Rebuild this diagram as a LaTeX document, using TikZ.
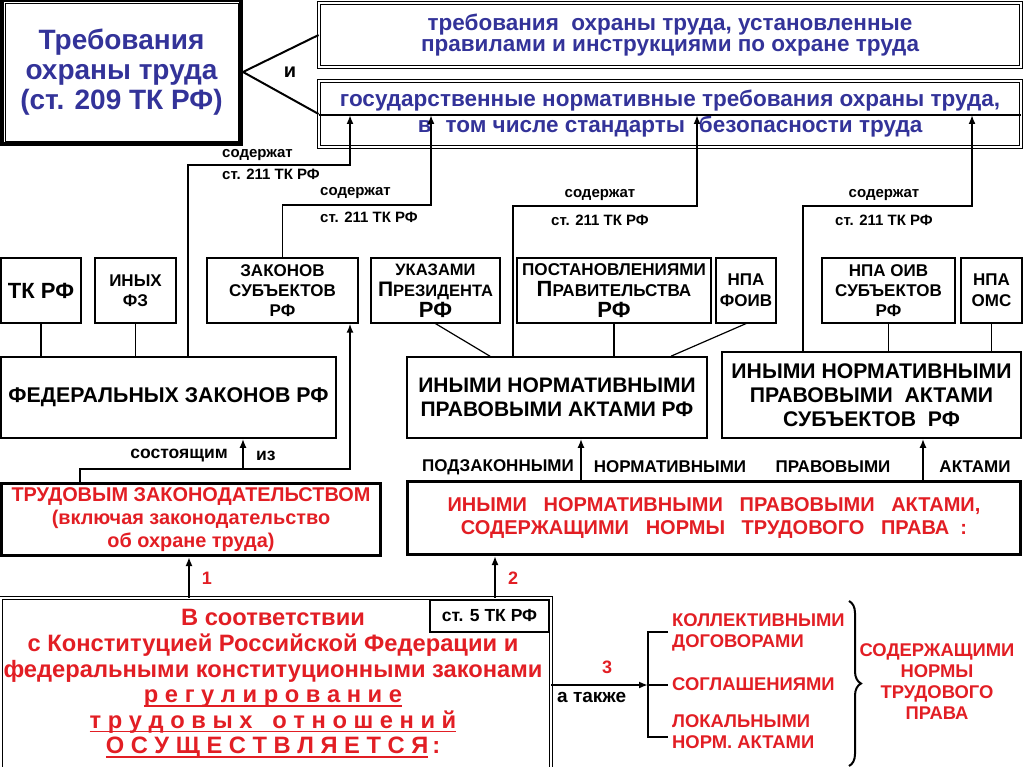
\documentclass[tikz,border=0pt]{standalone}
\usepackage{fontspec}
\setmainfont{Liberation Sans}
\usetikzlibrary{arrows.meta,calc,decorations.pathreplacing}

\definecolor{titleblue}{RGB}{51,51,153}
\definecolor{lawred}{RGB}{226,30,36}
\newcommand{\fsz}[2]{\fontsize{#1}{#2}\selectfont\bfseries}
\newsavebox{\ulnbox}
\newcommand{\uln}[1]{\sbox{\ulnbox}{#1}\rlap{\rule[-4pt]{\wd\ulnbox}{1.6pt}}\usebox{\ulnbox}}

\begin{document}
\begin{tikzpicture}[x=1pt,y=-1pt,
    box/.style={draw, line width=1.2pt, align=center, inner sep=0pt},
    dblbox/.style={draw, double, double distance=2pt, line width=0.8pt, align=center, inner sep=0pt},
    thickbox/.style={draw, line width=3pt, align=center, inner sep=0pt},
    conn/.style={line width=1.8pt},
    arr/.style={line width=1.8pt, -{Latex[length=9pt,width=7pt]}},
    lbl/.style={font=\fsz{15}{16}, inner sep=0pt},
    redlbl/.style={font=\fsz{18.4}{21}, text=lawred, inner sep=0pt, align=left},
    ]
    \useasboundingbox (0,0) rectangle (1024,767);

    % requirements
    \node[draw, line width=4pt, minimum width=239pt, minimum height=144pt, align=center,
          inner sep=0pt, text=titleblue, font=\fsz{28}{30}] (title) at (121.5,72) {Требования\\охраны труда\\(ст. 209 ТК РФ)};
    \draw[line width=0.8pt] ([shift={(5,5)}]title.north west) rectangle ([shift={(-5,-5)}]title.south east);
    \node[dblbox, minimum width=702pt, minimum height=64pt, text=titleblue, font=\fsz{22.5}{21}] (rules) at (670,35)
        {требования\ \ охраны труда, установленные\\правилами и инструкциями по охране труда};
    \node[dblbox, minimum width=702pt, minimum height=66pt, text=titleblue, font=\fsz{22.5}{26}] (gost) at (670,114)
        {государственные нормативные требования охраны труда,\\в\hspace{14pt}том числе стандарты\hspace{14pt}безопасности труда};
    \draw[line width=1.2pt] (gost.west |- 0,115) -- (gost.east |- 0,115);
    \node[font=\fsz{20}{20}] (iand) at (290,72) {и};
    \draw[line width=2pt] (title.east) -- (rules.west);
    \draw[line width=2pt] (title.east) -- (gost.west);
    \coordinate (t1) at (350,115);
    \coordinate (t2) at (431,115);
    \coordinate (t3) at (697,115);
    \coordinate (t4) at (972,115);

    % sources
    \node[box, minimum width=80pt, minimum height=65pt, font=\fsz{22}{22}] (tk) at (41,290.5) {ТК РФ};
    \node[box, minimum width=81pt, minimum height=65pt, font=\fsz{17}{20}] (ofz) at (135.5,290.5) {ИНЫХ\\ФЗ};
    \node[box, minimum width=151pt, minimum height=65pt, font=\fsz{17}{20}] (zsub) at (282.5,290.5) {ЗАКОНОВ\\СУБЪЕКТОВ\\РФ};
    \node[box, minimum width=129pt, minimum height=65pt, font=\fsz{16.5}{21}] (ukaz) at (435.5,290.5)
        {УКАЗАМИ\\{\fsz{21}{21}П}РЕЗИДЕНТА\\{\fsz{22}{21}РФ}};
    \node[box, minimum width=194pt, minimum height=65pt, font=\fsz{17.1}{21}] (post) at (614,290.5)
        {ПОСТАНОВЛЕНИЯМИ\\{\fsz{22}{21}П}РАВИТЕЛЬСТВА\\{\fsz{22}{21}РФ}};
    \node[box, minimum width=60pt, minimum height=65pt, font=\fsz{17}{21}] (foiv) at (746,290.5) {НПА\\ФОИВ};
    \node[box, minimum width=133pt, minimum height=65pt, font=\fsz{17}{20}] (oiv) at (888.5,290.5) {НПА ОИВ\\СУБЪЕКТОВ\\РФ};
    \node[box, minimum width=61pt, minimum height=65pt, font=\fsz{17}{21}] (oms) at (991.5,290.5) {НПА\\ОМС};

    % acts
    \node[box, line width=1.6pt, minimum width=335pt, minimum height=81pt, font=\fsz{21.3}{24}] (fed) at (168.5,397.5)
        {ФЕДЕРАЛЬНЫХ ЗАКОНОВ РФ};
    \node[box, line width=1.6pt, minimum width=300pt, minimum height=81pt, font=\fsz{21}{24}] (inrf) at (557,397.5)
        {ИНЫМИ НОРМАТИВНЫМИ\\ПРАВОВЫМИ АКТАМИ РФ};
    \node[box, line width=1.6pt, minimum width=299pt, minimum height=86pt, font=\fsz{21.2}{24}] (insub) at (871.5,395)
        {ИНЫМИ НОРМАТИВНЫМИ\\ПРАВОВЫМИ\ \ АКТАМИ\\СУБЪЕКТОВ\ \ РФ};
    \draw[conn] (tk.south) -- (tk.south |- fed.north);
    \draw[conn] (ofz.south) -- (ofz.south |- fed.north);
    \draw[line width=1.2pt] (ukaz.south) -- (inrf.north -| 490,0);
    \draw[conn] (post.south) -- (post.south |- inrf.north);
    \draw[line width=1.2pt] (foiv.south) -- (inrf.north -| 671,0);
    \draw[conn] (oiv.south) -- (oiv.south |- insub.north);
    \draw[conn] (oms.south) -- (oms.south |- insub.north);

    % st. 211
    \draw[arr] (fed.north -| 188,0) |- (350,165) -- (t1);
    \draw[arr] (zsub.north) |- (431,205) -- (t2);
    \draw[arr] (inrf.north -| 513,0) |- (697,206) -- (t3);
    \draw[arr] (insub.north -| 803,0) |- (972,206) -- (t4);
    \node[lbl, anchor=west] (sod1) at (222,155) {содержат};
    \node[lbl, anchor=west] (art1) at (222,174) {ст. 211 ТК РФ};
    \node[lbl, anchor=west] (sod2) at (320,193) {содержат};
    \node[lbl, anchor=west] (art2) at (320,217) {ст. 211 ТК РФ};
    \node[lbl] (sod3) at (600,195) {содержат};
    \node[lbl] (art3) at (600,220) {ст. 211 ТК РФ};
    \node[lbl] (sod4) at (884,195) {содержат};
    \node[lbl] (art4) at (884,220) {ст. 211 ТК РФ};

    % labour legislation
    \node[thickbox, minimum width=379pt, minimum height=72pt, text=lawred, font=\fsz{19.9}{23}] (trud) at (191,519.5)
        {ТРУДОВЫМ ЗАКОНОДАТЕЛЬСТВОМ\\(включая законодательство\\об охране труда)};
    \node[thickbox, minimum width=613pt, minimum height=73pt, text=lawred, font=\fsz{20}{23}] (inrp) at (714,518)
        {ИНЫМИ\ \ \ НОРМАТИВНЫМИ\ \ \ ПРАВОВЫМИ\ \ \ АКТАМИ,\\СОДЕРЖАЩИМИ\ \ \ НОРМЫ\ \ \ ТРУДОВОГО\ \ \ ПРАВА\ \ :};
    \coordinate (split) at (243,469);
    \draw[arr] (trud.north -| 80,0) |- (350,469) -- (zsub.south -| 350,0);
    \draw[arr] (split) -- (fed.south -| split);
    \node[lbl, font=\fsz{17.5}{16}, anchor=east] (cons) at (228,456) {состоящим};
    \node[lbl, font=\fsz{17.5}{16}, anchor=west] (iz) at (256,456) {из};
    \draw[arr] (inrp.north -| 581,0) -- (inrf.south -| 581,0);
    \draw[arr] (inrp.north -| 923,0) -- (insub.south -| 923,0);
    \node[lbl, font=\fsz{17}{16}] (w1) at (498,467) {ПОДЗАКОННЫМИ};
    \node[lbl, font=\fsz{17}{16}] (w2) at (670,467) {НОРМАТИВНЫМИ};
    \node[lbl, font=\fsz{17}{16}] (w3) at (833,467) {ПРАВОВЫМИ};
    \node[lbl, font=\fsz{17}{16}] (w4) at (975,467) {АКТАМИ};

    % regulation
    \node[dblbox, minimum width=550pt, minimum height=174pt] (main) at (276,685) {};
    \node[align=center, inner sep=0pt, text=lawred, font=\fsz{23.7}{25.6}] (mtext) at (273,684)
        {В соответствии\\с Конституцией Российской Федерации и\\федеральными конституционными законами\\
         \uln{р е г у л и р о в а н и е}\\\uln{т р у д о в ы х\ \ \ о т н о ш е н и й}\\\uln{О С У Щ Е С Т В Л Я Е Т С Я}\,:};
    \node[box, fill=white, minimum width=119pt, minimum height=32pt, font=\fsz{17.5}{16}] (st5) at (489.5,616) {ст. 5 ТК РФ};
    \draw[arr] (main.north -| 189,0) -- (trud.south -| 189,0);
    \draw[arr] (main.north -| 495,0) -- (inrp.south -| 495,0);
    \node[font=\fsz{18}{18}, text=lawred] (n1) at (207,578) {1};
    \node[font=\fsz{18}{18}, text=lawred] (n2) at (513,578) {2};

    % also
    \coordinate (brk) at (648,685);
    \draw[arr] (main.east) -- (brk);
    \node[font=\fsz{18}{18}, text=lawred] (n3) at (607,667) {3};
    \node[font=\fsz{19}{17}, anchor=west, inner sep=0pt] (also) at (557,697) {а также};
    \draw[line width=2pt] (668,632) -| (brk) |- (668,737);
    \draw[line width=2pt] (brk) -- (668,685);
    \node[redlbl, anchor=west] (kol) at (672,632) {КОЛЛЕКТИВНЫМИ\\ДОГОВОРАМИ};
    \node[redlbl, anchor=west] (sogl) at (672,684) {СОГЛАШЕНИЯМИ};
    \node[redlbl, anchor=west] (lok) at (672,732) {ЛОКАЛЬНЫМИ\\НОРМ. АКТАМИ};
    \draw[line width=2pt, decorate, decoration={brace, amplitude=12pt}] (849,601) -- (849,766);
    \node[redlbl, align=center] (sodn) at (937,682) {СОДЕРЖАЩИМИ\\НОРМЫ\\ТРУДОВОГО\\ПРАВА};
\end{tikzpicture}
\end{document}
